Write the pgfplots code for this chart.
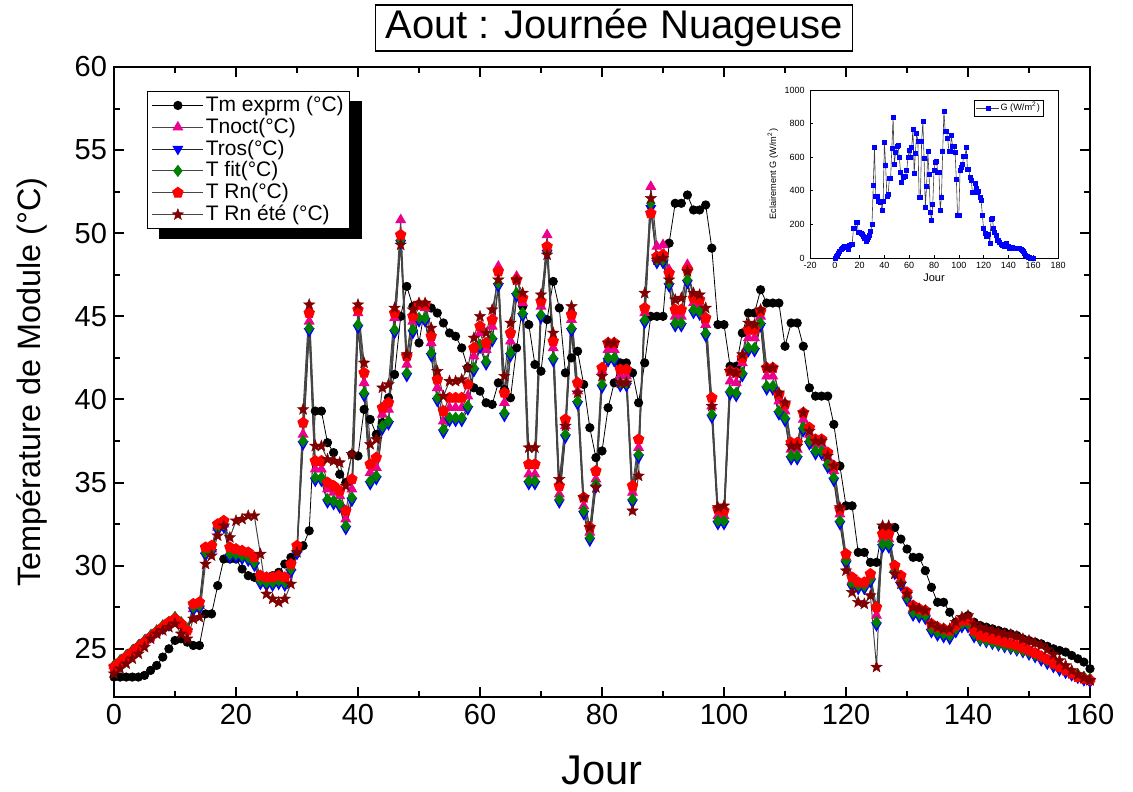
\documentclass[border=0pt]{standalone}
\usepackage{fontspec}
\setmainfont{Liberation Sans}
\usepackage{pgfplots}
\pgfplotsset{compat=1.18}
\usepackage{pgfplotstable}
\usetikzlibrary{plotmarks}
\pgfdeclareplotmark{fstar}{%
  \pgfpathmoveto{\pgfpointpolar{90}{1.2\pgfplotmarksize}}%
  \pgfpathlineto{\pgfpointpolar{126}{0.5\pgfplotmarksize}}%
  \pgfpathlineto{\pgfpointpolar{162}{1.2\pgfplotmarksize}}%
  \pgfpathlineto{\pgfpointpolar{198}{0.5\pgfplotmarksize}}%
  \pgfpathlineto{\pgfpointpolar{234}{1.2\pgfplotmarksize}}%
  \pgfpathlineto{\pgfpointpolar{270}{0.5\pgfplotmarksize}}%
  \pgfpathlineto{\pgfpointpolar{306}{1.2\pgfplotmarksize}}%
  \pgfpathlineto{\pgfpointpolar{342}{0.5\pgfplotmarksize}}%
  \pgfpathlineto{\pgfpointpolar{18}{1.2\pgfplotmarksize}}%
  \pgfpathlineto{\pgfpointpolar{54}{0.5\pgfplotmarksize}}%
  \pgfpathclose\pgfusepathqfillstroke}
\pgfplotstableread{
x Tm Tn Tr Tf Rn Re G
0 23.3 24.0 23.9 24.0 23.9 23.5 0
1 23.3 24.3 24.2 24.3 24.2 23.8 8
2 23.3 24.6 24.5 24.6 24.5 24.1 18
3 23.3 24.9 24.8 24.9 24.8 24.4 28
4 23.3 25.2 25.1 25.2 25.1 24.7 40
5 23.4 25.5 25.4 25.5 25.4 25.1 50
6 23.7 25.8 25.7 25.8 25.7 25.6 55
7 24.0 26.1 26.0 26.1 26.0 25.9 62
8 24.5 26.4 26.2 26.4 26.3 26.1 70
9 25.0 26.6 26.4 26.6 26.6 26.3 72
10 25.5 26.9 26.7 26.9 26.8 26.5 68
11 25.6 26.5 26.4 26.6 26.5 25.9 52
12 25.4 26.2 26.0 26.2 26.1 25.6 75
13 25.2 27.4 27.3 27.5 27.7 26.8 80
14 25.2 27.6 27.4 27.6 27.8 26.9 80
15 27.1 30.9 30.6 30.8 31.1 30.1 175
16 27.1 31.0 30.8 31.0 31.2 30.6 178
17 28.8 32.3 32.1 32.3 32.5 31.8 210
18 30.4 32.5 32.3 32.5 32.7 32.4 210
19 30.4 30.8 30.5 30.7 31.1 31.7 150
20 30.4 30.8 30.5 30.7 31.0 32.7 150
21 29.8 30.7 30.4 30.6 30.9 32.8 145
22 29.4 30.6 30.3 30.5 30.8 33.0 140
23 29.3 30.3 30.0 30.2 30.5 33.0 130
24 29.3 29.2 28.9 29.1 29.4 30.7 115
25 29.3 29.1 28.8 29.0 29.3 28.3 100
26 29.4 29.1 28.8 29.0 29.3 28.0 110
27 29.6 29.2 28.9 29.1 29.4 27.8 125
28 30.1 29.1 28.8 29.0 29.3 28.0 135
29 30.5 29.9 29.6 29.8 30.1 28.9 160
30 31.0 31.0 30.7 30.9 31.2 30.8 200
31 31.2 37.9 37.3 37.5 38.6 39.4 435
32 32.1 44.7 44.1 44.3 45.2 45.7 660
33 39.3 35.8 35.1 35.3 36.3 37.2 365
34 39.3 35.8 35.1 35.3 36.3 37.2 365
35 37.4 34.6 33.8 34.0 35.0 36.4 335
36 36.8 34.4 33.7 33.9 34.8 36.3 335
37 35.5 34.2 33.5 33.7 34.5 36.2 330
38 35.0 32.8 32.2 32.4 33.3 34.8 285
39 36.7 34.6 33.9 34.1 35.2 36.7 340
40 36.6 45.2 44.3 44.5 45.4 45.7 690
41 39.4 41.0 40.2 40.4 41.6 42.2 550
42 38.8 35.6 34.9 35.1 36.1 37.3 370
43 37.9 35.9 35.2 35.4 36.5 37.6 378
44 38.6 39.1 38.2 38.4 39.5 40.7 473
45 40.1 39.4 38.5 38.7 39.8 40.9 473
46 41.5 44.9 44.0 44.2 45.2 45.5 655
47 45.0 50.8 49.4 49.6 49.9 49.3 835
48 46.8 42.1 41.4 41.6 42.6 42.7 555
49 45.6 44.7 44.0 44.2 45.0 45.4 628
50 43.4 45.6 44.7 44.9 45.7 45.8 662
51 45.6 45.5 44.7 44.9 45.7 45.8 668
52 45.5 43.4 42.6 42.8 43.8 44.3 600
53 45.2 40.7 39.9 40.1 41.2 41.7 513
54 44.6 38.7 38.0 38.2 39.3 40.2 453
55 44.0 39.5 38.7 38.9 40.1 41.1 483
56 43.8 39.5 38.7 38.9 40.1 41.1 487
57 43.1 39.5 38.7 38.9 40.1 41.2 487
58 41.9 40.2 39.4 39.6 40.9 41.9 519
59 40.7 42.6 41.7 41.9 43.1 43.7 600
60 40.5 44.0 43.1 43.3 44.4 45.0 640
61 39.8 43.0 42.1 42.3 43.4 44.0 600
62 39.7 44.4 43.5 43.7 44.8 45.4 656
63 41.0 48.0 46.8 47.0 47.7 47.2 767
64 40.6 39.8 39.0 39.2 40.4 41.4 503
65 40.1 43.5 42.6 42.8 44.0 44.6 626
66 43.1 47.4 46.2 46.4 47.2 47.2 741
67 45.6 45.8 45.0 45.2 46.1 46.4 696
68 44.5 35.5 34.9 35.1 36.1 37.1 360
69 42.1 35.5 34.9 35.1 36.1 37.1 360
70 41.7 45.6 44.9 45.1 45.9 46.3 692
71 44.8 49.9 48.8 49.0 49.2 48.7 811
72 47.1 43.1 42.3 42.5 43.5 44.0 592
73 45.5 34.3 33.8 34.0 34.8 35.2 304
74 41.6 38.4 37.7 37.9 38.8 38.4 427
75 42.5 44.8 44.1 44.3 45.1 45.6 636
76 42.9 40.5 39.7 39.9 41.0 40.4 497
77 40.9 33.6 33.1 33.3 34.1 34.1 274
78 38.3 32.0 31.5 31.7 32.3 32.3 223
79 36.5 35.2 34.7 34.9 35.7 34.7 320
80 36.9 41.7 40.7 40.9 41.9 41.4 523
81 39.5 43.0 42.3 42.5 43.4 43.4 569
82 41.0 43.0 42.3 42.5 43.4 43.4 575
83 42.2 41.4 40.8 41.0 41.8 41.0 513
84 42.2 41.4 40.8 41.0 41.8 41.0 513
85 41.6 34.4 33.8 34.0 34.8 33.3 284
86 39.8 37.1 36.5 36.7 37.6 35.4 364
87 42.2 45.2 44.6 44.8 45.5 46.4 636
88 45.0 52.8 51.5 51.8 51.2 52.1 871
89 45.0 49.2 48.2 48.4 48.6 48.4 757
90 45.0 49.3 48.2 48.4 48.7 48.5 757
91 49.4 47.8 46.8 47.0 47.6 47.2 712
92 51.8 45.0 44.4 44.6 45.4 46.0 636
93 51.8 45.0 44.4 44.6 45.4 46.1 636
94 52.3 48.1 47.0 47.2 47.8 47.7 728
95 51.4 45.8 45.2 45.4 46.1 46.4 662
96 51.4 45.7 45.1 45.3 46.0 46.3 662
97 51.7 44.5 43.8 44.0 44.9 45.5 628
98 49.1 39.6 38.9 39.1 40.1 39.6 467
99 44.5 33.0 32.5 32.7 33.4 33.5 254
100 44.5 33.0 32.5 32.7 33.3 33.6 254
101 42.0 41.1 40.3 40.5 41.7 41.7 523
102 42.0 41.0 40.2 40.4 41.6 41.6 540
103 44.0 42.2 41.4 41.6 42.5 42.7 557
104 45.2 43.7 42.9 43.1 44.2 44.6 608
105 45.2 43.7 42.9 43.1 44.2 44.5 608
106 46.6 45.0 44.4 44.6 45.3 45.4 656
107 45.8 41.4 40.6 40.8 41.9 41.9 529
108 45.8 41.4 40.6 40.8 41.9 41.9 529
109 45.8 39.9 39.1 39.3 40.3 40.4 479
110 43.2 39.3 38.7 38.9 39.7 39.8 463
111 44.6 37.0 36.4 36.6 37.4 37.2 390
112 44.6 37.0 36.4 36.6 37.4 37.2 390
113 43.2 38.8 38.1 38.3 39.2 39.2 443
114 40.7 37.9 37.3 37.5 38.3 38.1 413
115 40.2 37.3 36.7 36.9 37.6 37.5 390
116 40.2 37.3 36.7 36.9 37.6 37.5 394
117 40.2 36.5 35.9 36.1 36.8 36.6 364
118 38.5 35.7 35.1 35.3 36.0 36.0 344
119 36.0 33.1 32.5 32.7 33.4 33.5 254
120 33.6 30.5 30.1 30.3 30.7 29.7 175
121 33.6 29.1 28.7 28.9 29.3 28.4 145
122 30.8 28.9 28.6 28.8 29.0 27.8 131
123 30.8 28.9 28.6 28.8 29.0 27.7 131
124 30.2 29.4 29.0 29.2 29.5 28.2 140
125 30.2 27.0 26.4 26.6 27.5 23.9 90
126 32.3 31.6 31.1 31.3 31.9 32.4 230
127 32.3 31.6 31.1 31.3 31.9 32.4 235
128 32.3 29.8 29.5 29.7 30.0 29.5 179
129 31.6 29.2 28.8 29.0 29.4 28.9 155
130 31.0 28.3 27.9 28.1 28.4 28.3 135
131 30.5 27.4 27.0 27.2 27.6 27.5 105
132 30.5 27.3 26.9 27.1 27.4 27.4 105
133 29.7 27.2 26.8 27.0 27.3 27.3 91
134 28.7 26.3 26.0 26.2 26.5 26.5 80
135 27.8 26.1 25.8 26.0 26.3 26.3 75
136 27.8 26.0 25.7 25.9 26.2 26.2 80
137 27.2 25.9 25.6 25.8 26.1 26.2 72
138 26.6 26.3 26.0 26.2 26.4 26.6 85
139 26.8 26.6 26.3 26.5 26.7 26.9 72
140 27.0 26.6 26.3 26.5 26.7 27.0 72
141 26.6 26.0 25.7 25.9 26.1 26.5 60
142 26.4 25.7 25.5 25.6 25.8 26.3 61
143 26.3 25.6 25.4 25.5 25.7 26.2 62
144 26.2 25.5 25.3 25.4 25.6 26.1 60
145 26.1 25.4 25.2 25.3 25.5 26.0 60
146 26.0 25.3 25.1 25.2 25.4 25.9 59
147 25.9 25.2 25.0 25.1 25.3 25.85 58
148 25.8 25.1 24.9 25.0 25.2 25.75 56
149 25.6 25.0 24.8 24.9 25.05 25.6 55
150 25.5 24.85 24.65 24.8 24.9 25.5 52
151 25.4 24.7 24.5 24.65 24.75 25.35 46
152 25.3 24.5 24.3 24.5 24.55 25.2 40
153 25.15 24.3 24.1 24.3 24.35 24.95 26
154 25.0 24.1 23.9 24.1 24.1 24.65 16
155 24.9 23.9 23.7 23.9 23.9 24.3 10
156 24.8 23.75 23.55 23.75 23.7 24.0 6
157 24.6 23.6 23.4 23.6 23.5 23.7 2
158 24.4 23.45 23.25 23.45 23.3 23.45 1
159 24.2 23.3 23.1 23.3 23.2 23.25 0
160 23.8 23.2 23.0 23.2 23.1 23.1 0
}\data
\begin{document}
\begin{tikzpicture}
\useasboundingbox (-57pt,-47pt) rectangle (509.5pt,348.5pt);
\begin{axis}[
  at={(0pt,0pt)}, anchor=south west,
  scale only axis, width=488pt, height=315pt,
  xmin=0, xmax=160, ymin=22.1, ymax=60,
  xtick={0,20,...,160}, ytick={25,30,...,60},
  minor x tick num=1, minor y tick num=1,
  tick pos=both, tick align=inside,
  major tick length=5pt, minor tick length=3pt,
  axis line style={line width=1.3pt},
  every tick/.style={line width=1pt, black},
  /pgf/number format/assume math mode=true,
  ticklabel style={font=\fontsize{14.5}{16}\selectfont},
  xlabel={Jour}, ylabel={Température de Module (°C)},
  xlabel style={font=\fontsize{20.8}{24}\selectfont, at={(axis description cs:0.5,-0.116)}, anchor=center},
  ylabel style={font=\fontsize{16.2}{19}\selectfont, at={(axis description cs:-0.084,0.5)}, anchor=center},
  legend style={name=leg, at={(axis description cs:0.034,0.962)}, anchor=north west,
    draw=black, line width=0.6pt, fill=white,
    font=\fontsize{10.5}{11}\selectfont,
    nodes={inner sep=0.9pt},
    inner xsep=2pt, inner ysep=1.5pt},
  legend cell align=left,
  legend image code/.code={\draw[mark repeat=2,mark phase=2] plot coordinates {(0cm,0cm)(0.45cm,0cm)(0.9cm,0cm)};},
]
\addplot[black, line width=0.4pt, mark=*, mark size=2.1pt, mark options={fill=black, draw=black}] table[x=x,y=Tm]{\data};
\addlegendentry{Tm exprm (°C)}
\addplot[gray!55!black, line width=0.5pt, mark=triangle*, mark size=2.7pt, mark options={fill=magenta, draw=magenta}] table[x=x,y=Tn]{\data};
\addlegendentry{Tnoct(°C)}
\addplot[black!85, line width=0.5pt, mark=triangle*, mark size=2.7pt, mark options={rotate=180, fill=blue, draw=blue}] table[x=x,y=Tr]{\data};
\addlegendentry{Tros(°C)}
\addplot[gray!55!black, line width=0.5pt, mark=diamond*, mark size=2.7pt, mark options={fill=green!50!black, draw=green!50!black}] table[x=x,y=Tf]{\data};
\addlegendentry{T fit(°C)}
\addplot[gray!55!black, line width=0.5pt, mark=pentagon*, mark size=2.7pt, mark options={fill=red, draw=red}] table[x=x,y=Rn]{\data};
\addlegendentry{T Rn(°C)}
\addplot[gray!55!black, line width=0.5pt, mark=fstar, mark size=2.5pt, mark options={fill=red!50!black, draw=red!50!black, line width=0.2pt}] table[x=x,y=Re]{\data};
\addlegendentry{T Rn été (°C)}
\end{axis}
\fill[black] ([yshift=-5pt]leg.north east) rectangle ([xshift=6pt,yshift=-5pt]leg.south east);
\fill[black] ([xshift=6pt]leg.south west) rectangle ([xshift=6pt,yshift=-5pt]leg.south east);
\begin{axis}[
  at={(348pt,219.5pt)}, anchor=south west,
  scale only axis, width=124pt, height=84pt,
  xmin=-20, xmax=180, ymin=0, ymax=1000,
  xtick={-20,0,...,180}, ytick={0,200,...,1000},
  tick align=inside, tick pos=left,
  major tick length=1.5pt,
  axis line style={line width=0.4pt},
  every tick/.style={line width=0.3pt, black},
  /pgf/number format/assume math mode=true,
  /pgf/number format/1000 sep={},
  xticklabel style={font=\fontsize{4.5}{5}\selectfont, inner sep=1pt, yshift=-1pt},
  yticklabel style={font=\fontsize{4.5}{5}\selectfont, inner sep=1pt, xshift=-1.5pt},
  xlabel={Jour}, ylabel={Eclairement G (W/m\textsuperscript{2})},
  xlabel style={font=\fontsize{5.5}{6}\selectfont, at={(axis description cs:0.5,-0.12)}, anchor=center},
  ylabel style={font=\fontsize{4.6}{5.5}\selectfont, at={(axis description cs:-0.15,0.5)}, anchor=center},
  legend style={at={(axis description cs:0.94,0.94)}, anchor=north east,
    draw=black, line width=0.3pt, font=\fontsize{4.6}{5}\selectfont,
    nodes={inner sep=0.5pt}, inner xsep=1pt, inner ysep=0.5pt},
  legend image code/.code={\draw[mark repeat=2,mark phase=2] plot coordinates {(0cm,0cm)(0.2cm,0cm)(0.4cm,0cm)};},
]
\addplot[black!75, line width=0.3pt, mark=square*, mark size=1pt, mark options={fill=blue, draw=blue}] table[x=x,y=G]{\data};
\addlegendentry{G (W/m\textsuperscript{2})}
\end{axis}
\node[draw=black, line width=0.8pt, fill=white, font=\fontsize{20}{22}\selectfont, inner xsep=5pt, inner ysep=2pt] at (250pt,334.5pt) {Aout : Journée Nuageuse};
\end{tikzpicture}
\end{document}
